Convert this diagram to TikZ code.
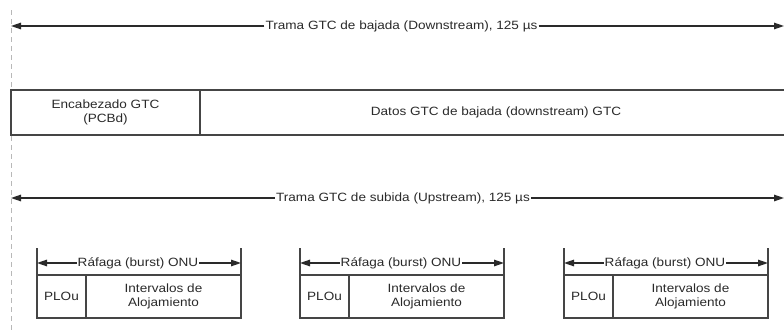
\documentclass[tikz,border=0pt]{standalone}
\usepackage{fontspec}
\setmainfont{Liberation Sans}[FakeStretch=1.13]
\usetikzlibrary{arrows.meta}
\definecolor{ink}{HTML}{2A2A2A}
\definecolor{framec}{HTML}{454545}
\definecolor{dashc}{HTML}{B8B8B8}
\tikzset{
  lbl/.style={fill=white, inner sep=1pt, text=ink, font=\fontsize{12}{14}\selectfont},
  arr/.style={draw=ink, line width=1.3pt, -{Triangle[length=10pt,width=6.5pt]}},
  frame/.style={draw=framec, line width=1.5pt},
  cell/.style={frame, text=ink, font=\fontsize{12}{14}\selectfont, align=center, inner sep=0pt, outer sep=0pt, anchor=north west},
  guide/.style={draw=dashc, line width=1pt, dash pattern=on 5pt off 4pt}
}
\begin{document}
\begin{tikzpicture}[x=1pt,y=-1pt]
\useasboundingbox (0,0) rectangle (784,332);
% dashed reference line
\coordinate (gtop) at (11,10);
\coordinate (gbot) at (11,332);
\draw[guide] (gtop) -- (gbot);
% downstream frame arrow
\coordinate (dl) at (11,26);
\coordinate (dr) at (784,26);
\node[lbl] (dlab) at (401.5,26) {Trama GTC de bajada (Downstream), 125 µs};
\draw[arr] (dlab.west) -- (dl);
\draw[arr] (dlab.east) -- (dr);
% downstream frame boxes
\node[cell, minimum width=189pt, minimum height=45pt] (hdr) at (11,90) {Encabezado GTC\\(PCBd)};
\coordinate (dtr) at (784,90);
\coordinate (dbr) at (784,135);
\draw[frame] (hdr.north east) -- (dtr);
\draw[frame] (hdr.south east) -- (dbr);
\node[text=ink, font=\fontsize{12}{14}\selectfont] (data) at (496,112.5) {Datos GTC de bajada (downstream) GTC};
% upstream frame arrow
\coordinate (ul) at (11,198);
\coordinate (ur) at (784,198);
\node[lbl] (ulab) at (403,198) {Trama GTC de subida (Upstream), 125 µs};
\draw[arr] (ulab.west) -- (ul);
\draw[arr] (ulab.east) -- (ur);
% bursts
\foreach \L/\n in {37/a,300/b,564/c}{
  \node[cell, minimum width=49pt, minimum height=43pt] (plou\n) at (\L,275) {PLOu};
  \node[cell, minimum width=155pt, minimum height=43pt] (int\n) at (\L+49,275) {Intervalos de\\Alojamiento};
  \coordinate (tl\n) at (\L,248);
  \coordinate (tr\n) at (\L+204,248);
  \draw[frame] (plou\n.north west) -- (tl\n);
  \draw[frame] (int\n.north east) -- (tr\n);
  \coordinate (al\n) at (\L,263);
  \coordinate (ar\n) at (\L+204,263);
  \node[lbl] (blab\n) at (\L+101,263) {Ráfaga (burst) ONU};
  \draw[arr] (blab\n.west) -- (al\n);
  \draw[arr] (blab\n.east) -- (ar\n);
}
\end{tikzpicture}
\end{document}
